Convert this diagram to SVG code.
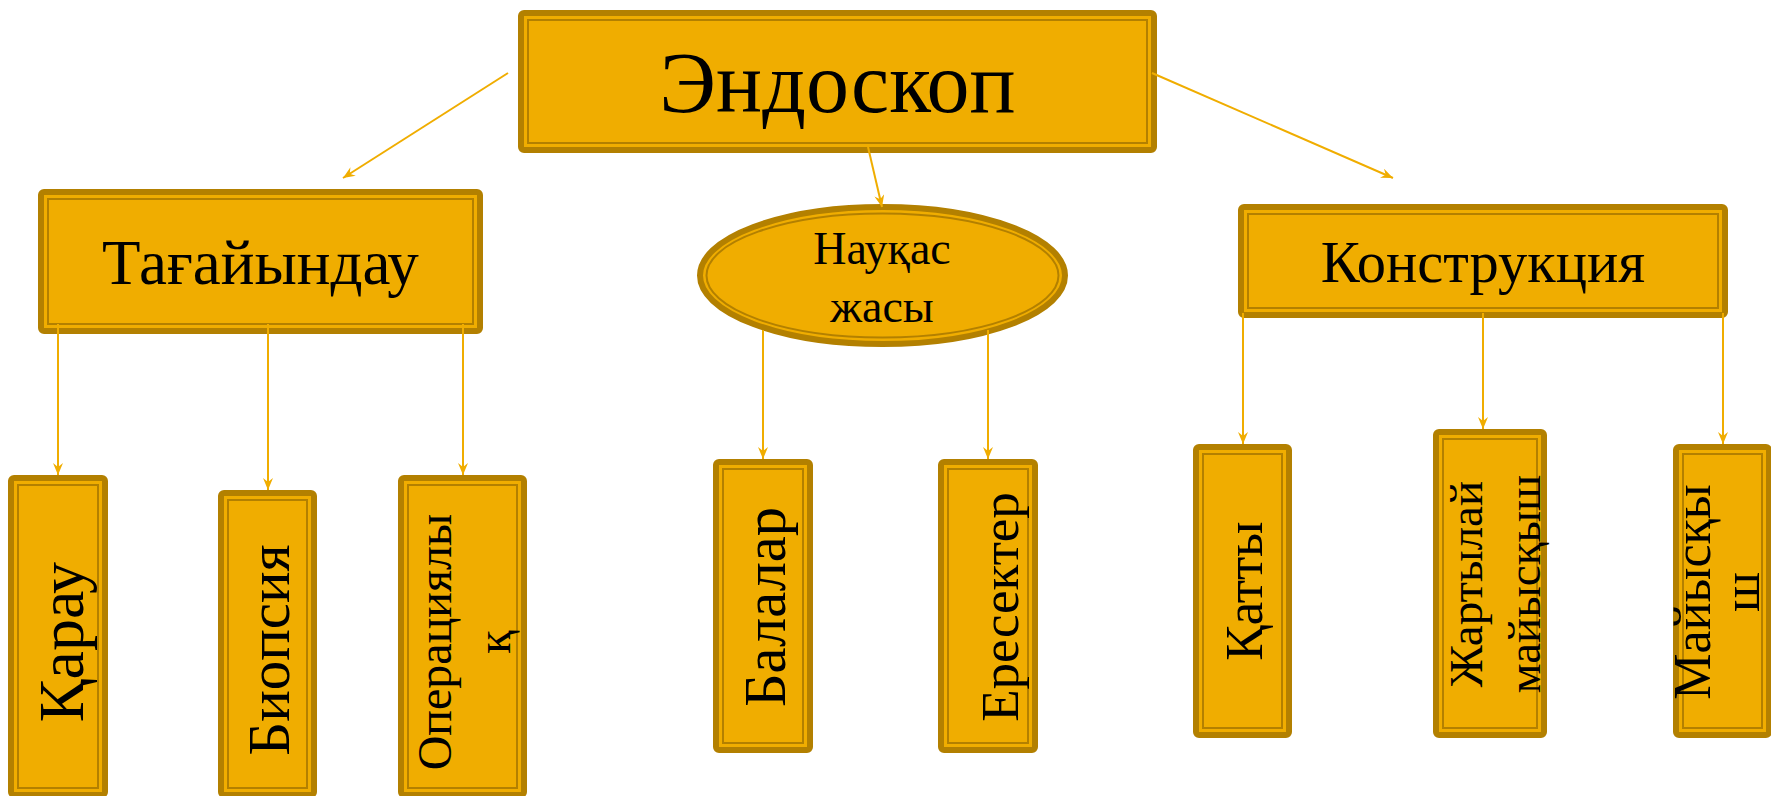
<svg xmlns="http://www.w3.org/2000/svg" width="1771" height="796" viewBox="0 0 1771 796">
<defs>
<style>
.outer{fill:#F0AD00;stroke:#B38000;stroke-width:6}
.inner{fill:none;stroke:#B38000;stroke-width:2}
.conn{fill:none;stroke:#F0AD00;stroke-width:2;marker-end:url(#ah)}
text{font-family:"Liberation Serif","Times New Roman",serif;fill:#000}
.c{text-anchor:middle}
</style>
<marker id="ah" markerUnits="userSpaceOnUse" markerWidth="12" markerHeight="10" refX="12" refY="5" orient="auto">
<path d="M0,0 L12,5 L0,10 L4,5 z" fill="#F0AD00"/>
</marker>
</defs>
<rect width="1771" height="796" fill="#fff"/>
<g id="endoskop">
<rect class="outer" x="521" y="13" width="633" height="137" rx="3"/>
<rect class="inner" x="528" y="20" width="619" height="123"/>
<text class="c" x="837.5" y="112" font-size="86">Эндоскоп</text>
</g>
<g id="tagaiyndau">
<rect class="outer" x="41" y="192" width="439" height="139" rx="3"/>
<rect class="inner" x="48" y="199" width="425" height="125"/>
<text class="c" x="260.5" y="284" font-size="63">Тағайындау</text>
</g>
<g id="naukas">
<ellipse class="outer" cx="882.5" cy="275.5" rx="182.5" ry="68.5"/>
<ellipse class="inner" cx="882.5" cy="275.5" rx="176" ry="62"/>
<text class="c" x="882" y="264" font-size="46">Науқас</text>
<text class="c" x="882" y="322" font-size="46">жасы</text>
</g>
<g id="konstruktsiya">
<rect class="outer" x="1241" y="207" width="484" height="108" rx="3"/>
<rect class="inner" x="1248" y="214" width="470" height="94"/>
<text class="c" x="1483" y="282" font-size="58.5">Конструкция</text>
</g>
<g id="karau">
<rect class="outer" x="11" y="478" width="94" height="317" rx="3"/>
<rect class="inner" x="18" y="485" width="80" height="303"/>
<text class="c" transform="translate(83,642) rotate(-90)" font-size="64">Қарау</text>
</g>
<g id="biopsiya">
<rect class="outer" x="221" y="493" width="93" height="302" rx="3"/>
<rect class="inner" x="228" y="500" width="79" height="288"/>
<text class="c" transform="translate(289,650) rotate(-90)" font-size="59">Биопсия</text>
</g>
<g id="operatsiyalyk">
<rect class="outer" x="401" y="478" width="123" height="317" rx="3"/>
<rect class="inner" x="408" y="485" width="109" height="303"/>
<text class="c" transform="translate(451,642) rotate(-90)" font-size="48">Операциялы</text>
<text class="c" transform="translate(510,642) rotate(-90)" font-size="48">қ</text>
</g>
<g id="balalar">
<rect class="outer" x="716" y="462" width="94" height="288" rx="3"/>
<rect class="inner" x="723" y="469" width="80" height="274"/>
<text class="c" transform="translate(785,607) rotate(-90)" font-size="58.5">Балалар</text>
</g>
<g id="eresekter">
<rect class="outer" x="941" y="462" width="94" height="288" rx="3"/>
<rect class="inner" x="948" y="469" width="80" height="274"/>
<text class="c" transform="translate(1018,607) rotate(-90)" font-size="53">Ересектер</text>
</g>
<g id="katty">
<rect class="outer" x="1196" y="447" width="93" height="288" rx="3"/>
<rect class="inner" x="1203" y="454" width="79" height="274"/>
<text class="c" transform="translate(1262,591) rotate(-90)" font-size="53">Қатты</text>
</g>
<g id="zhartylai">
<rect class="outer" x="1436" y="432" width="108" height="303" rx="3"/>
<rect class="inner" x="1443" y="439" width="94" height="289"/>
<text class="c" transform="translate(1482,584) rotate(-90)" font-size="47">Жартылай</text>
<text class="c" transform="translate(1540,584) rotate(-90)" font-size="47">майысқыш</text>
</g>
<g id="maiyskysh">
<rect class="outer" x="1676" y="447" width="93" height="288" rx="3"/>
<rect class="inner" x="1683" y="454" width="79" height="274"/>
<text class="c" transform="translate(1710,592) rotate(-90)" font-size="52">Майысқы</text>
<text class="c" transform="translate(1759,592) rotate(-90)" font-size="52">ш</text>
</g>
<g id="connectors">
<path class="conn" d="M508,73 L343,178"/>
<path class="conn" d="M868,147 L882,207"/>
<path class="conn" d="M1152,73 L1393,178"/>
<path class="conn" d="M58,324 L58,475"/>
<path class="conn" d="M268,324 L268,490"/>
<path class="conn" d="M463,324 L463,475"/>
<path class="conn" d="M763,330 L763,459"/>
<path class="conn" d="M988,330 L988,459"/>
<path class="conn" d="M1243,313 L1243,444"/>
<path class="conn" d="M1483,313 L1483,429"/>
<path class="conn" d="M1723,313 L1723,444"/>
</g>
</svg>
